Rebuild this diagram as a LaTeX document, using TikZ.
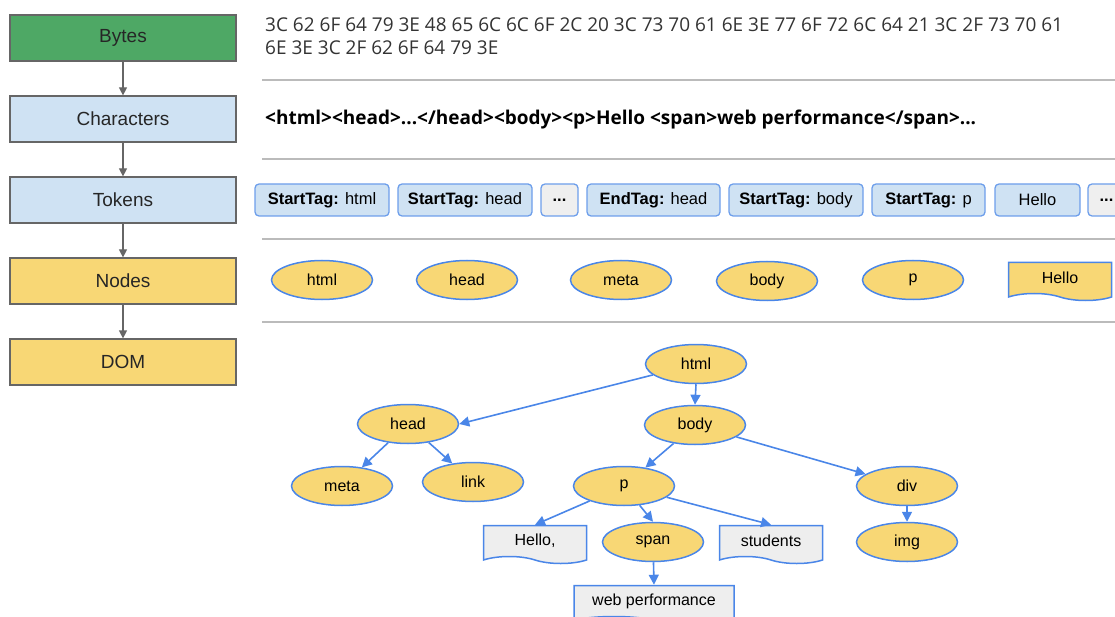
\documentclass[tikz,border=0pt]{standalone}
\usepackage{fontspec}
\setmainfont{Liberation Sans}
\newfontfamily\hexfont{Open Sans}
\usetikzlibrary{shapes.geometric}
\usetikzlibrary{shapes.symbols}
\usetikzlibrary{arrows.meta}

\definecolor{stagegray}{HTML}{666666}
\definecolor{boxgreen}{HTML}{4EA865}
\definecolor{boxblue}{HTML}{CFE2F3}
\definecolor{boxyellow}{HTML}{F8D775}
\definecolor{edgeblue}{HTML}{4A86E8}
\definecolor{tokenedge}{HTML}{6D9EEB}
\definecolor{tokgray}{HTML}{EFEFEF}
\definecolor{docgray}{HTML}{EEEEEE}
\definecolor{rulegray}{HTML}{BBBBBB}

\begin{document}
\begin{tikzpicture}[x=1pt,y=-1pt,
    stage/.style={rectangle,draw=stagegray,line width=1.2pt,minimum width=226pt,minimum height=46pt,text=black!85,font=\fontsize{19}{21}\selectfont},
    flow/.style={-{Triangle[length=8pt,width=8pt]},draw=stagegray,line width=1.2pt},
    token/.style={rectangle,rounded corners=4pt,draw=tokenedge,line width=1.3pt,fill=boxblue,minimum height=32pt,inner xsep=2pt,font=\fontsize{16.5}{18}\selectfont},
    gap/.style={token,fill=tokgray},
    elem/.style={ellipse,draw=edgeblue,line width=1.5pt,fill=boxyellow,minimum width=101pt,minimum height=39pt,inner sep=0pt,font=\fontsize{16}{18}\selectfont},
    textdoc/.style={tape,tape bend top=none,tape bend bottom=out and in,tape bend height=7pt,draw=edgeblue,line width=1.5pt,fill=docgray,minimum width=103pt,minimum height=38pt,inner sep=0pt,font=\fontsize{16}{18}\selectfont},
    branch/.style={-{Triangle[length=10pt,width=10pt]},draw=edgeblue,line width=1.6pt},
    rule/.style={draw=rulegray,line width=1.5pt}]
    \clip (0,0) rectangle (1115,617);

    % stages
    \node[stage,fill=boxgreen] (Bytes) at (123,38) {Bytes};
    \node[stage,fill=boxblue] (Chars) at (123,119) {Characters};
    \node[stage,fill=boxblue] (Tokens) at (123,200) {Tokens};
    \node[stage,fill=boxyellow] (Nodes) at (123,281) {Nodes};
    \node[stage,fill=boxyellow] (DOM) at (123,362) {DOM};

    \draw[flow] (Bytes) -- (Chars);
    \draw[flow] (Chars) -- (Tokens);
    \draw[flow] (Tokens) -- (Nodes);
    \draw[flow] (Nodes) -- (DOM);

    % bytes and characters
    \node[anchor=north west,align=left,inner sep=0pt,text=black!80,font=\hexfont\fontsize{19}{22.5}\selectfont] (hex) at (265,18)
        {3C 62 6F 64 79 3E 48 65 6C 6C 6F 2C 20 3C 73 70 61 6E 3E 77 6F 72 6C 64 21 3C 2F 73 70 61\\6E 3E 3C 2F 62 6F 64 79 3E};
    \node[anchor=west,inner sep=0pt,font=\hexfont\bfseries\fontsize{19}{21}\selectfont] (text) at (265,120)
        {<html><head>...</head><body><p>Hello <span>web performance</span>...};

    \draw[rule] (262,80) -- (1115,80);
    \draw[rule] (262,159) -- (1115,159);
    \draw[rule] (262,239) -- (1115,239);
    \draw[rule] (262,322) -- (1115,322);

    % tokens
    \node[token,minimum width=134pt] (t1) at (322,200) {\textbf{StartTag:} html};
    \node[token,minimum width=134pt] (t2) at (465,200) {\textbf{StartTag:} head};
    \node[gap,minimum width=37pt] (t3) at (559.5,200) {\textbf{...}};
    \node[token,minimum width=133pt] (t4) at (653.5,200) {\textbf{EndTag:} head};
    \node[token,minimum width=134pt] (t5) at (796,200) {\textbf{StartTag:} body};
    \node[token,minimum width=113pt] (t6) at (928.5,200) {\textbf{StartTag:} p};
    \node[token,minimum width=85pt] (t7) at (1037.5,200) {Hello};
    \node[gap,minimum width=37pt] (t8) at (1106.5,200) {\textbf{...}};

    % nodes
    \node[elem] (n1) at (322,280) {html};
    \node[elem] (n2) at (467,280) {head};
    \node[elem] (n3) at (621,280) {meta};
    \node[elem] (n4) at (767,281) {body};
    \node[elem] (n5) at (913,280) {p};
    \node[textdoc,fill=boxyellow] (n6) at (1060,278) {Hello};

    % dom tree
    \node[elem] (html) at (696,364) {html};
    \node[elem] (head) at (408,424) {head};
    \node[elem] (body) at (695,425) {body};
    \node[elem] (meta) at (342,486) {meta};
    \node[elem] (link) at (473,482) {link};
    \node[elem] (p) at (624,486) {p};
    \node[elem] (div) at (907,486) {div};
    \node[textdoc] (hello) at (535,541) {Hello,};
    \node[elem] (span) at (653,542) {span};
    \node[textdoc] (students) at (771,541) {students};
    \node[elem] (img) at (907,542) {img};
    \node[textdoc,minimum width=160pt] (webperf) at (654,601) {web performance};

    \draw[branch] (html) -- (head.east);
    \draw[branch] (html.south) -- (body.north);
    \draw[branch] (head) -- (meta);
    \draw[branch] (head) -- (link);
    \draw[branch] (body) -- (p);
    \draw[branch] (body) -- (div);
    \draw[branch] (p) -- (hello.north);
    \draw[branch] (p) -- (span.north);
    \draw[branch] (p) -- (students.north);
    \draw[branch] (span) -- (webperf.north);
    \draw[branch] (div) -- (img);
\end{tikzpicture}
\end{document}
